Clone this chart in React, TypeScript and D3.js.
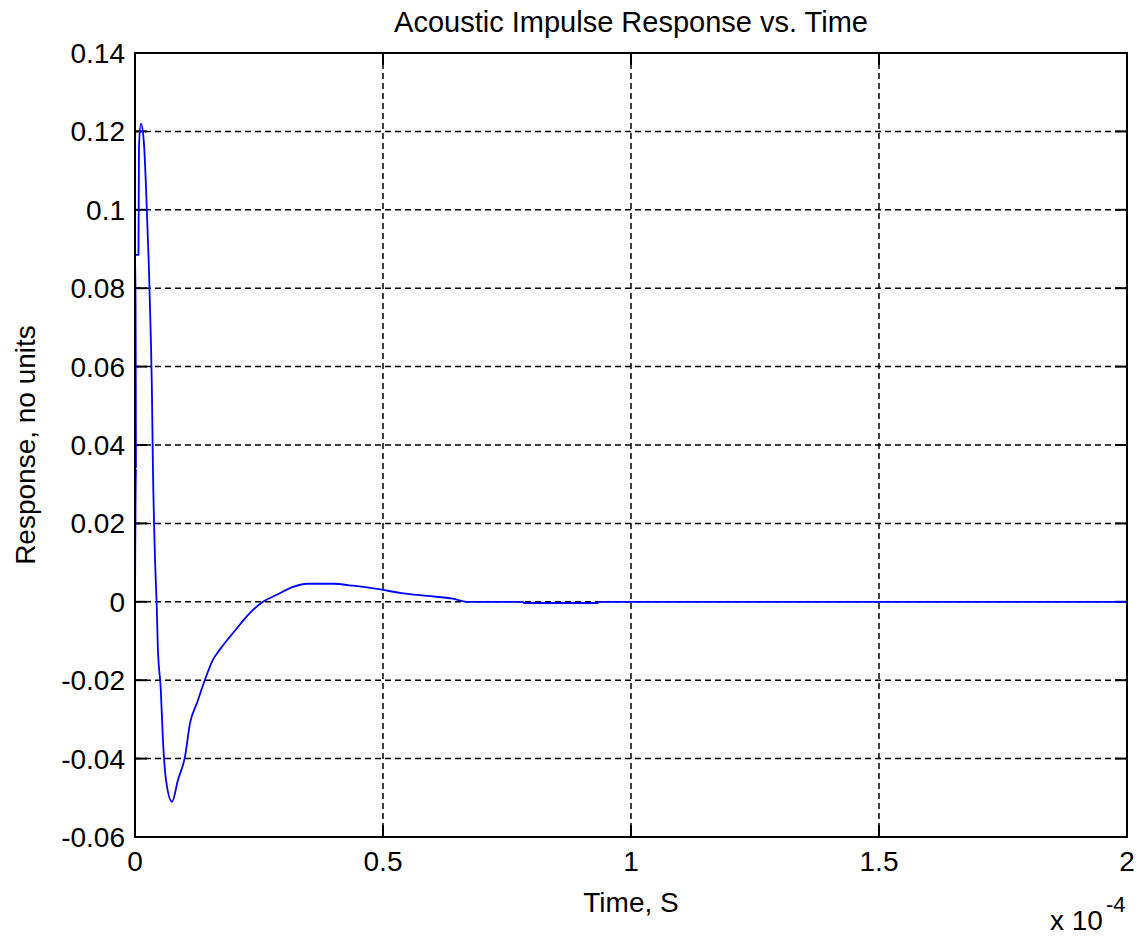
import React from 'react';
import * as d3 from 'd3';

// time in units of 1e-4 s, response without units
const times = [
  0, 0.002, 0.001, 0.007, 0.008, 0.012, 0.018, 0.022, 0.028, 0.032, 0.034, 0.036, 0.040,
  0.044, 0.046, 0.052, 0.056, 0.0625, 0.0746, 0.0867, 0.1008, 0.111, 0.125, 0.141, 0.157,
  0.171, 0.198, 0.232, 0.258, 0.286, 0.319, 0.347, 0.399, 0.440, 0.488, 0.534, 0.589,
  0.641, 0.669, 0.782, 0.784, 0.933, 0.935, 2.0,
];
const response = [
  0, 0.034, 0.0885, 0.0885, 0.116, 0.122, 0.117, 0.1064, 0.0855, 0.0668, 0.0546, 0.0355, 0.0125,
  -0.002, -0.0115, -0.0224, -0.0344, -0.0454, -0.051, -0.0454, -0.0395, -0.0309, -0.0258, -0.0199, -0.0148,
  -0.0122, -0.0079, -0.0028, 0, 0.0018, 0.0038, 0.0046, 0.0046, 0.0041, 0.0033, 0.0023, 0.0015,
  0.0008, 0, 0, -0.0003, -0.0003, 0, 0,
];
const xTicks = [0, 0.5, 1, 1.5, 2];
const yTicks = [-0.06, -0.04, -0.02, 0, 0.02, 0.04, 0.06, 0.08, 0.1, 0.12, 0.14];

const width = 1138;
const height = 936;
const left = 135;
const right = 1127;
const top = 53;
const bottom = 837;
const font = "Arial, 'Liberation Sans', sans-serif";

const App = () => {
  const x = d3.scaleLinear().domain([0, 2]).range([left, right]);
  const y = d3.scaleLinear().domain([-0.06, 0.14]).range([bottom, top]);
  const line = d3.line<number>()
    .x((_, i) => x(times[i]))
    .y(d => y(d))
    .curve(d3.curveMonotoneX);

  const fmtY = (v: number) => {
    if (Math.abs(v) < 1e-9) return '0';
    return v.toFixed(2).replace(/0$/, '');
  };

  return (
    <svg width={width} height={height} style={{ position: 'absolute', left: 0, top: 0, background: '#fff' }}>
      <rect x={0} y={0} width={width} height={height} fill="#fff" />
      {/* grid */}
      {xTicks.slice(1, -1).map(t => (
        <line key={'gx' + t} x1={x(t)} x2={x(t)} y1={top} y2={bottom}
          stroke="#000" strokeWidth={1.5} strokeDasharray="6,4" />
      ))}
      {yTicks.slice(1, -1).map(t => (
        <line key={'gy' + t} x1={left} x2={right} y1={y(t)} y2={y(t)}
          stroke="#000" strokeWidth={1.5} strokeDasharray="6,4" />
      ))}
      {/* ticks */}
      {xTicks.map(t => (
        <g key={'tx' + t}>
          <line x1={x(t)} x2={x(t)} y1={bottom} y2={bottom - 12} stroke="#000" strokeWidth={2} />
          <line x1={x(t)} x2={x(t)} y1={top} y2={top + 12} stroke="#000" strokeWidth={2} />
          <text x={x(t)} y={bottom + 34} textAnchor="middle" fontFamily={font} fontSize={28}>{t}</text>
        </g>
      ))}
      {yTicks.map(t => (
        <g key={'ty' + t}>
          <line x1={left} x2={left + 12} y1={y(t)} y2={y(t)} stroke="#000" strokeWidth={2} />
          <line x1={right} x2={right - 12} y1={y(t)} y2={y(t)} stroke="#000" strokeWidth={2} />
          <text x={left - 10} y={y(t) + 10} textAnchor="end" fontFamily={font} fontSize={28}>{fmtY(t)}</text>
        </g>
      ))}
      {/* curve */}
      <path d={line(response) || ''} fill="none" stroke="#0000ff" strokeWidth={1.8} />
      {/* box */}
      <rect x={left} y={top} width={right - left} height={bottom - top} fill="none" stroke="#000" strokeWidth={2} />
      {/* labels */}
      <text x={631} y={32} textAnchor="middle" fontFamily={font} fontSize={29}>Acoustic Impulse Response vs. Time</text>
      <text x={631} y={912} textAnchor="middle" fontFamily={font} fontSize={28}>Time, S</text>
      <text transform={`translate(35,${(top + bottom) / 2}) rotate(-90)`} textAnchor="middle" fontFamily={font} fontSize={28}>Response, no units</text>
      <text x={1050} y={930} fontFamily={font} fontSize={28}>x 10</text>
      <text x={1106} y={912} fontFamily={font} fontSize={22}>-4</text>
    </svg>
  );
};

export default App;
